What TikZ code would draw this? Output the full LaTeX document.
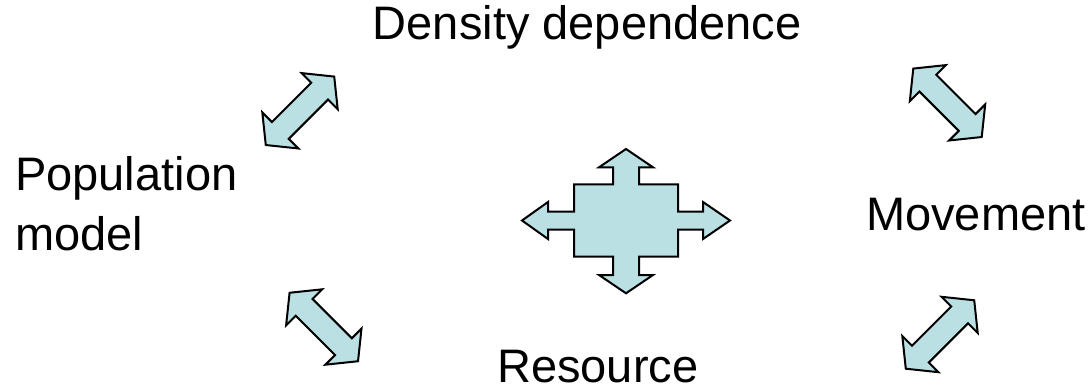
\documentclass[tikz,border=0pt]{standalone}
\usepackage{fontspec}
\setmainfont{Liberation Sans}
\definecolor{arrowfill}{RGB}{187,224,227}
\tikzset{
  shapestyle/.style={draw=black, fill=arrowfill, line width=2pt, line join=miter},
  label/.style={inner sep=0pt, anchor=base west, font=\fontsize{47}{60}\selectfont},
  pics/dblarrow/.style={code={
    \path[shapestyle] (48.4,0) -- (27.8,25.5) -- (27.8,11.9) -- (-27.8,11.9) -- (-27.8,25.5)
      -- (-48.4,0) -- (-27.8,-25.5) -- (-27.8,-11.9) -- (27.8,-11.9) -- (27.8,-25.5) -- cycle;
  }}
}
\begin{document}
\begin{tikzpicture}[x=1pt,y=-1pt]
\useasboundingbox (0,0) rectangle (1091,390);
% text labels
\node[label] (density) at (372.7,40) {Density dependence};
\node[label] (population) at (15,190) {Population};
\node[label] (model) at (15,250) {model};
\node[label] (movement) at (866,230) {Movement};
\node[label] (resource) at (497,382) {Resource};
% double arrows
\pic[rotate=45] (tl) at (300,110.8) {dblarrow};
\pic[rotate=-45] (tr) at (947.5,102.8) {dblarrow};
\pic[rotate=-45] (bl) at (323.8,327) {dblarrow};
\pic[rotate=45] (br) at (940,334.5) {dblarrow};
% central four-way arrow
\path[shapestyle] (626,149) -- (653,167.3) -- (639,167.3) -- (639,184.3) -- (678,184.3)
  -- (678,211.5) -- (703,211.5) -- (703,202) -- (730,220.5) -- (703,239) -- (703,229.5)
  -- (678,229.5) -- (678,256.7) -- (639,256.7) -- (639,275) -- (653,275) -- (626,293.3)
  -- (599,275) -- (613,275) -- (613,256.7) -- (574,256.7) -- (574,229.5) -- (548,229.5)
  -- (548,239) -- (522,220.5) -- (548,202) -- (548,211.5) -- (574,211.5) -- (574,184.3)
  -- (613,184.3) -- (613,167.3) -- (599,167.3) -- cycle;
\end{tikzpicture}
\end{document}
